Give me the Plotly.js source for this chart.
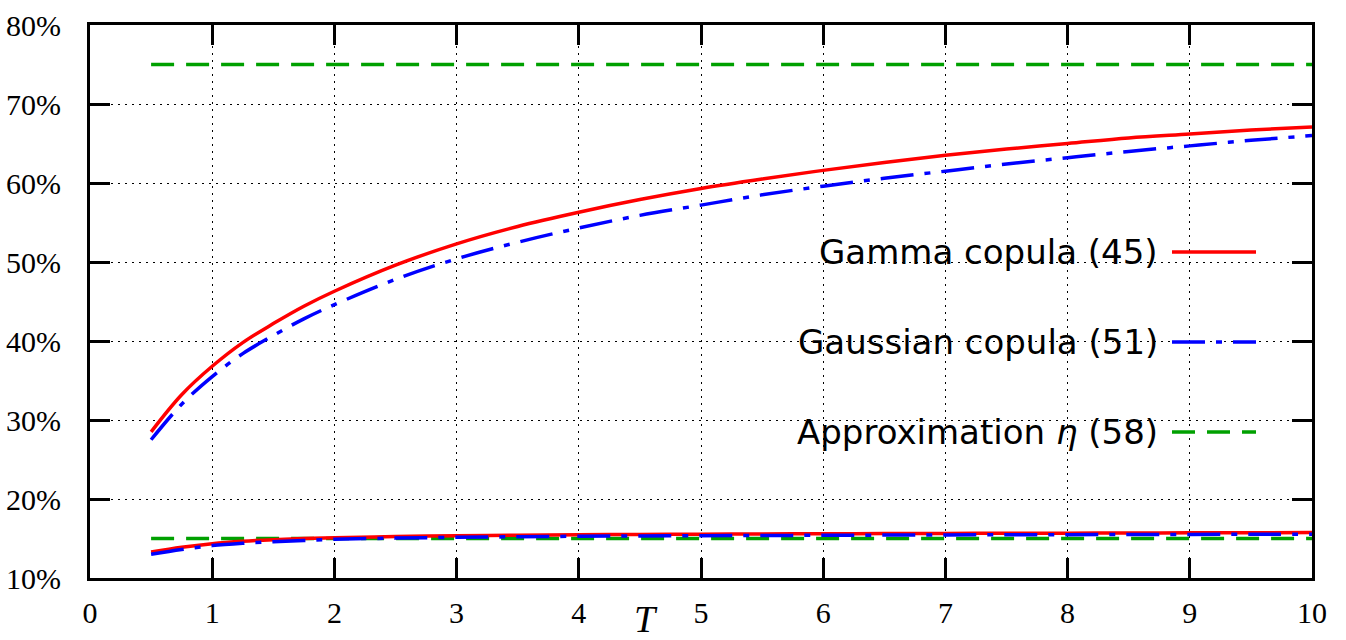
<!DOCTYPE html>
<html>
<head>
<meta charset="utf-8">
<script src="https://cdn.plot.ly/plotly-3.0.1.min.js"></script>
<style>html,body{margin:0;padding:0;background:#fff;}#chart{width:1346px;height:640px;}</style>
</head>
<body>
<div id="chart"></div>
<script>
// Maturity T
var T = [0.5, 0.75, 1, 1.25, 1.5, 1.75, 2, 2.5, 3, 3.5, 4, 4.5, 5, 5.5, 6, 6.5, 7, 7.5, 8, 8.5, 9, 9.5, 10];
// Upper curves (%)
var gammaUpper    = [28.5, 33.2, 36.8, 39.8, 42.2, 44.4, 46.3, 49.6, 52.3, 54.5, 56.3, 57.9, 59.3, 60.5, 61.6, 62.6, 63.5, 64.3, 65.0, 65.7, 66.2, 66.7, 67.1];
var gaussianUpper = [27.5, 32.0, 35.5, 38.4, 40.7, 42.8, 44.6, 47.8, 50.4, 52.5, 54.3, 55.9, 57.2, 58.5, 59.6, 60.6, 61.5, 62.4, 63.2, 64.0, 64.7, 65.4, 66.0];
// Lower curves (%)
var gammaLower    = [13.3, 13.9, 14.35, 14.65, 14.85, 15.0, 15.1, 15.25, 15.35, 15.42, 15.48, 15.52, 15.55, 15.58, 15.6, 15.62, 15.64, 15.66, 15.68, 15.7, 15.72, 15.73, 15.75];
var gaussianLower = [13.0, 13.6, 14.1, 14.4, 14.6, 14.75, 14.9, 15.05, 15.15, 15.22, 15.28, 15.32, 15.35, 15.38, 15.41, 15.43, 15.45, 15.47, 15.49, 15.51, 15.52, 15.54, 15.55];
// Approximation eta (%)
var approxT = [0.5, 10];
var approxUpper = [75, 75];
var approxLower = [15, 15];
var legendLabels = ["Gamma copula (45)", "Gaussian copula (51)", "Approximation <i>η</i> (58)"];
var yTickVals = [10, 20, 30, 40, 50, 60, 70, 80];
var yTickText = ["10%", "20%", "30%", "40%", "50%", "60%", "70%", "80%"];
var xTickVals = [0, 1, 2, 3, 4, 5, 6, 7, 8, 9, 10];

var RED = "#ff0000", BLUE = "#0000ff", GREEN = "#00a000";
var blueDash = "33px,11px,6px,11px";
var greenDash = "23px,12px";
var LW = 3.5;

var traces = [
  {x: approxT, y: approxUpper, mode: "lines", line: {color: GREEN, width: LW, dash: greenDash}},
  {x: approxT, y: approxLower, mode: "lines", line: {color: GREEN, width: LW, dash: greenDash}},
  {x: T, y: gammaUpper, mode: "lines", line: {color: RED, width: LW, shape: "spline"}},
  {x: T, y: gammaLower, mode: "lines", line: {color: RED, width: LW, shape: "spline"}},
  {x: T, y: gaussianUpper, mode: "lines", line: {color: BLUE, width: LW, dash: blueDash, shape: "spline"}},
  {x: T, y: gaussianLower, mode: "lines", line: {color: BLUE, width: LW, dash: blueDash, shape: "spline"}}
];

// pixel helpers (plot area: x 90..1312, y 25..578)
var L = 90, R = 1312, TOP = 25, BOT = 578;
function px(x) { return (x - L) / (R - L); }
function py(y) { return (BOT - y) / (BOT - TOP); }

var rows = [252, 342, 432];
var styles = [
  {color: RED, dash: "solid"},
  {color: BLUE, dash: blueDash},
  {color: GREEN, dash: greenDash}
];
var shapes = [{type: "rect", xref: "paper", yref: "paper", x0: px(786), x1: px(1248), y0: py(470), y1: py(212),
  fillcolor: "#ffffff", line: {width: 0}, layer: "between"}];
var annotations = [];
for (var i = 0; i < 3; i++) {
  shapes.push({type: "line", xref: "paper", yref: "paper", x0: px(1172), x1: px(1256), y0: py(rows[i]), y1: py(rows[i]),
    line: {color: styles[i].color, width: LW, dash: styles[i].dash}, layer: "above"});
  annotations.push({xref: "paper", yref: "paper", x: px(1160), y: py(rows[i]), xanchor: "right", yanchor: "middle",
    text: legendLabels[i], showarrow: false, font: {family: "DejaVu Sans", size: 34, color: "#000"}});
}
annotations.push({xref: "paper", yref: "paper", x: px(646), y: py(641), xanchor: "center", yanchor: "bottom",
  text: "T", showarrow: false, borderpad: 0, font: {family: "Liberation Serif", size: 38, style: "italic", color: "#000"}});

var axisCommon = {
  showline: true, linecolor: "#000", linewidth: 3, mirror: "allticks",
  ticks: "inside", ticklen: 20, tickwidth: 3, tickcolor: "#000",
  showgrid: true, gridcolor: "#000", gridwidth: 1, griddash: "2px,5px",
  zeroline: false, tickfont: {family: "Liberation Serif", size: 30, color: "#000"}
};

var layout = {
  width: 1346, height: 640,
  margin: {l: L, r: 1346 - R, t: TOP, b: 640 - BOT, pad: 0},
  paper_bgcolor: "#fff", plot_bgcolor: "#fff",
  showlegend: false,
  xaxis: Object.assign({}, axisCommon, {range: [0, 10], tickvals: xTickVals, ticklabelstandoff: 6}),
  yaxis: Object.assign({}, axisCommon, {range: [10, 80], tickvals: yTickVals, ticktext: yTickText, ticklabelstandoff: 20}),
  shapes: shapes,
  annotations: annotations
};

Plotly.newPlot("chart", traces, layout, {staticPlot: true});
</script>
</body>
</html>
